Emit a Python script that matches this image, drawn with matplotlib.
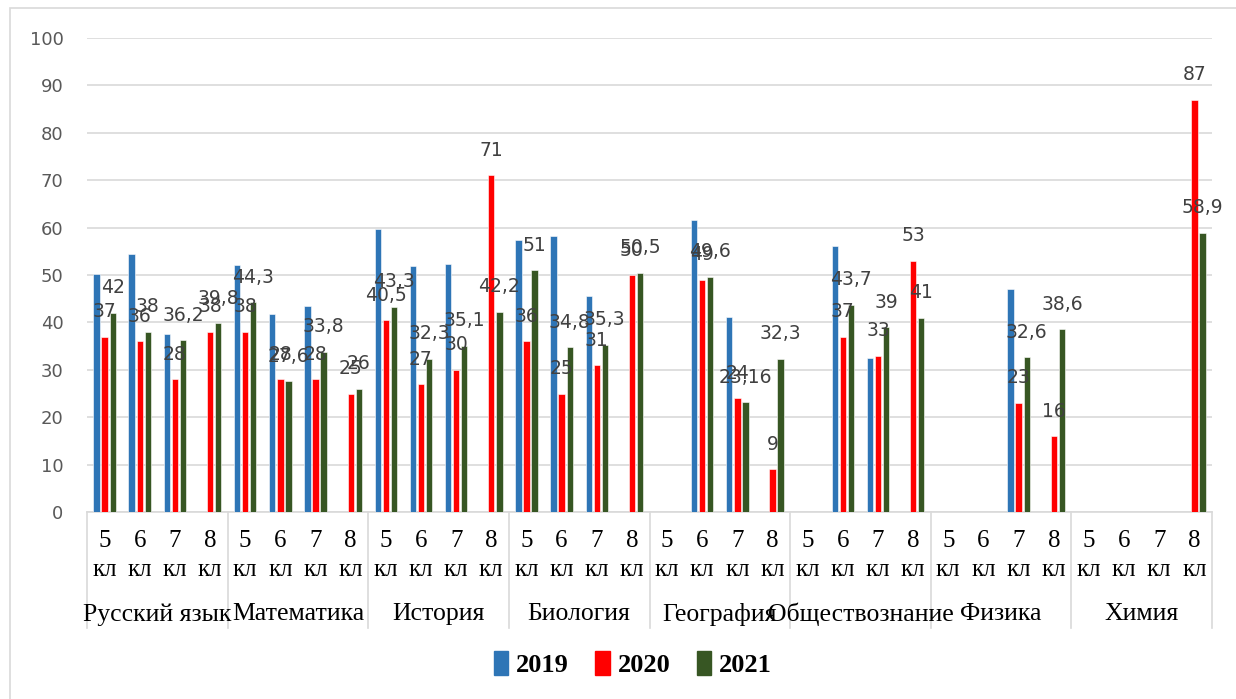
import numpy as np
import matplotlib
matplotlib.use("Agg")
import matplotlib.pyplot as plt
from matplotlib.patches import Rectangle
import matplotlib.transforms as mtransforms

# ── Data ─────────────────────────────────────────────────
subjects = ["Русский язык", "Математика", "История", "Биология",
            "География", "Обществознание", "Физика", "Химия"]
grades = ["5\nкл", "6\nкл", "7\nкл", "8\nкл"]
years = ["2019", "2020", "2021"]

y2019 = [50.3, 54.4, 37.5, None, 52.1, 41.8, 43.5, None,
         59.6, 52.0, 52.4, None, 57.4, 58.2, 45.6, None,
         None, 61.5, 41.2, None, None, 56.2, 32.4, None,
         None, None, 47.1, None, None, None, None, None]
y2020 = [37, 36, 28, 38, 38, 28, 28, 25,
         40.5, 27, 30, 71, 36, 25, 31, 50,
         None, 49, 24, 9, None, 37, 33, 53,
         None, None, 23, 16, None, None, None, 87]
y2021 = [42, 38, 36.2, 39.8, 44.3, 27.6, 33.8, 26,
         43.3, 32.3, 35.1, 42.2, 51, 34.8, 35.3, 50.5,
         None, 49.6, 23.16, 32.3, None, 43.7, 39, 41,
         None, None, 32.6, 38.6, None, None, None, 58.9]

colors = ["#2E75B6", "#FF0000", "#375623"]
label_series = [False, True, True]   # 2019 has no data labels

# ── Figure ───────────────────────────────────────────────
fig = plt.figure(figsize=(12.36, 6.99), dpi=100)
fig.patch.set_facecolor("white")
fig.add_artist(Rectangle((10 / 1236, -0.1), 1.2, 1 - 8 / 699 + 0.1,
                         transform=fig.transFigure, fill=False,
                         edgecolor="#d9d9d9", linewidth=1.2))

ax = fig.add_axes([87 / 1236, 1 - 512 / 699, 1125 / 1236, 474 / 699])

n = len(subjects) * len(grades)
x = np.arange(n)
offsets = [-0.23, 0.0, 0.23]
width = 0.18

for vals, col, off, lab in zip([y2019, y2020, y2021], colors, offsets, label_series):
    xs = [xi + off for xi, v in zip(x, vals) if v is not None]
    hs = [v for v in vals if v is not None]
    ax.bar(xs, hs, width, color=col, edgecolor="white", linewidth=0.4, zorder=3)
    if lab:
        for xi, h in zip(xs, hs):
            txt = f"{h:g}".replace(".", ",")
            ax.annotate(txt, xy=(xi, h), xytext=(0, 18), textcoords="offset points",
                        ha="center", va="center", fontsize=13.5, color="#404040",
                        family="DejaVu Sans", zorder=4, annotation_clip=False)

ax.set_xlim(-0.5, n - 0.5)
ax.set_ylim(0, 100)
ax.set_yticks(np.arange(0, 101, 10))
ax.tick_params(axis="y", length=0, pad=17, labelsize=13, labelcolor="#595959")
ax.grid(axis="y", color="#d9d9d9", linewidth=1.2, zorder=0)
ax.set_axisbelow(True)
for s in ["top", "right", "left"]:
    ax.spines[s].set_visible(False)
ax.spines["bottom"].set_color("#d9d9d9")
ax.spines["bottom"].set_linewidth(1.2)

# grade labels
ax.set_xticks(x)
ax.set_xticklabels(grades * len(subjects), family="Liberation Serif",
                   fontsize=18, linespacing=1.4)
ax.tick_params(axis="x", length=0, pad=13)

# subject labels and separators
trans = mtransforms.blended_transform_factory(ax.transData, ax.transAxes)
for i, name in enumerate(subjects):
    ax.text(i * 4 + 1.5, -0.216, name, transform=trans, ha="center", va="center",
            family="Liberation Serif", fontsize=18.5, color="black")
for b in np.arange(-0.5, n, 4):
    ax.plot([b, b], [0, -0.245], transform=trans, color="#d9d9d9",
            linewidth=1.2, clip_on=False)

# legend
handles = [Rectangle((0, 0), 1, 1, color=c) for c in colors]
fig.legend(handles, years, loc="center", bbox_to_anchor=(0.512, 0.05), ncol=3,
           frameon=False, handlelength=0.55, handleheight=1.0, handletextpad=0.3,
           columnspacing=1.0, prop={"family": "Liberation Serif", "weight": "bold", "size": 19})

plt.savefig("out.png", dpi=100, facecolor=fig.get_facecolor())
plt.close()
